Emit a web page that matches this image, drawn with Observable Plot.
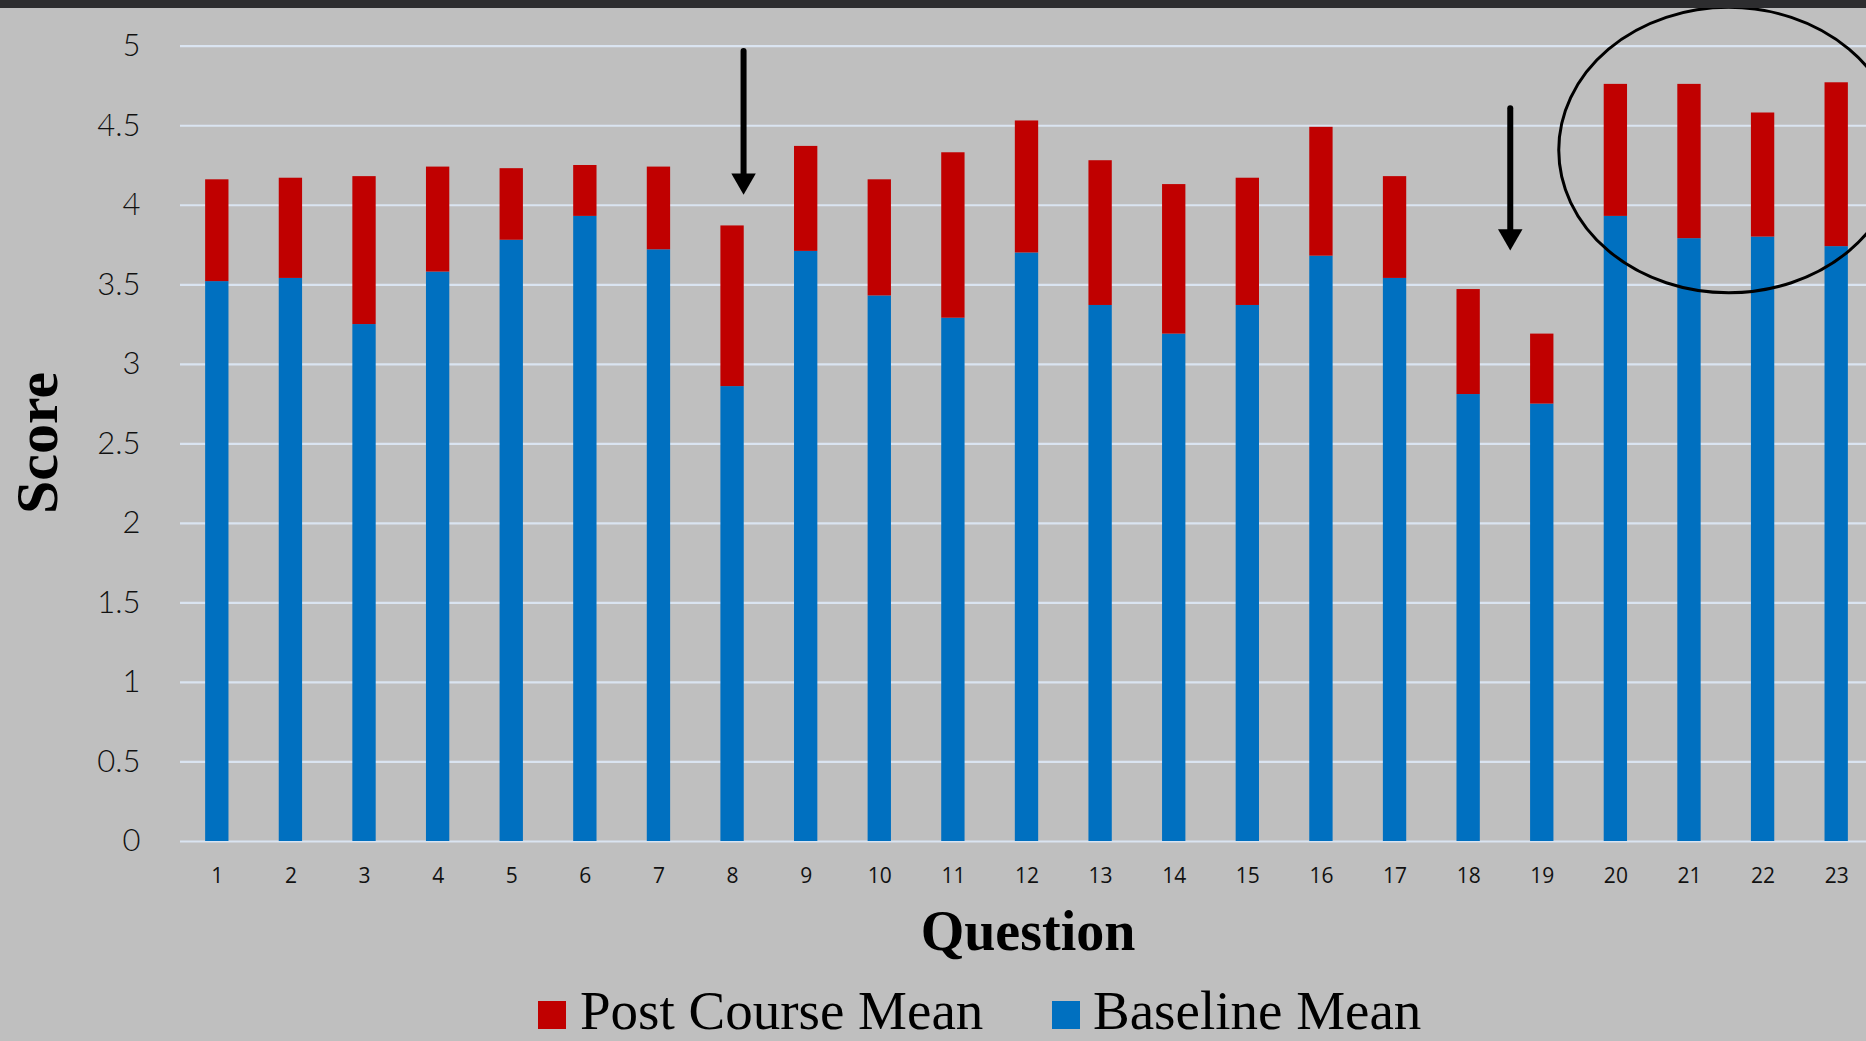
<!DOCTYPE html>
<html>
<head>
<meta charset="utf-8">
<script src="https://cdn.jsdelivr.net/npm/d3@7"></script>
<script src="https://cdn.jsdelivr.net/npm/@observablehq/plot@0.6"></script>
<style>
  html, body { margin: 0; padding: 0; background: #bfbfbf; overflow: hidden; }
  #frame { position: relative; width: 1866px; height: 1041px; overflow: hidden; background: #bfbfbf; }
  #topbar { position: absolute; left: 0; top: 0; width: 1866px; height: 8px; background: #2d2d2f; z-index: 3; }
  #chart { position: absolute; left: 0; top: 0; width: 1873px; }
  #chart svg { max-width: none !important; }
  #overlay { position: absolute; left: 0; top: 0; pointer-events: none; }
</style>
</head>
<body>
<div id="frame">
  <div id="chart"></div>
  <svg id="overlay" width="1866" height="1041"></svg>
  <div id="topbar"></div>
</div>
<script>
// ---- data ----
const questions = [1,2,3,4,5,6,7,8,9,10,11,12,13,14,15,16,17,18,19,20,21,22,23];
const baselineMean = [3.52,3.54,3.25,3.58,3.78,3.93,3.72,2.86,3.71,3.43,3.29,3.70,3.37,3.19,3.37,3.68,3.54,2.81,2.75,3.93,3.79,3.80,3.74];
const postCourseMean = [4.16,4.17,4.18,4.24,4.23,4.25,4.24,3.87,4.37,4.16,4.33,4.53,4.28,4.13,4.17,4.49,4.18,3.47,3.19,4.76,4.76,4.58,4.77];
const yTicks = [0,0.5,1,1.5,2,2.5,3,3.5,4,4.5,5];
const seriesNames = ["Post Course Mean", "Baseline Mean"];
const seriesColors = ["#c00000", "#0070c0"];
const xTitle = "Question";
const yTitle = "Score";
// annotation anchors (question, value from, value to)
const arrowQ = [8, 19];
const arrowFrom = [4.97, 4.61];
const arrowTo = [4.155, 3.805];
const circleQ = [21, 22];
const circleCenterValue = 4.344;
const circleHalfHeightValue = 0.897;

const data = questions.map((q, i) => ({q, baseline: baselineMean[i], post: postCourseMean[i]}));
const arrows = arrowQ.map((q, i) => ({q, from: arrowFrom[i], to: arrowTo[i]}));

const arrowMarks = (i, dx) => [
  Plot.link([arrows[i]], {x1: "q", x2: "q", y1: "from", y2: "to", dx, stroke: "#000", strokeWidth: 6, strokeLinecap: "round"}),
  Plot.dot([arrows[i]], {x: "q", y: "to", dx, symbol: "triangle2", rotate: 180, r: 11.7, fill: "#000", stroke: "none"})
];

const plot = Plot.plot({
  width: 1873,
  height: 900,
  marginLeft: 180,
  marginRight: 0,
  marginTop: 45.7,
  marginBottom: 59,
  style: {background: "transparent", overflow: "visible", color: "#000", maxWidth: "none"},
  x: {type: "band", domain: questions, paddingInner: 0.683, paddingOuter: 0.3415, round: false, label: null},
  y: {domain: [0, 5], ticks: yTicks, label: null},
  marks: [
    Plot.gridY(yTicks, {stroke: "#dae4f1", strokeOpacity: 1, strokeWidth: 2.2}),
    Plot.barY(data, {x: "q", y1: 0, y2: "baseline", fill: seriesColors[1]}),
    Plot.barY(data, {x: "q", y1: "baseline", y2: "post", fill: seriesColors[0]}),
    Plot.axisY(yTicks, {tickSize: 0, tickPadding: 40, tickFormat: d => String(d), fontSize: 31, fontFamily: "Lato", fontWeight: 300, fill: "#111", label: null}),
    Plot.axisX({tickSize: 0, tickPadding: 27, fontSize: 21, fontFamily: "Open Sans", fill: "#111", label: null}),
    ...arrowMarks(0, 11),
    ...arrowMarks(1, -32)
  ]
});
document.getElementById("chart").appendChild(plot);

// ellipse annotation anchored through the plot's scales
const xs = plot.scale("x"), ys = plot.scale("y");
const cx = (xs.apply(circleQ[0]) + xs.apply(circleQ[1])) / 2 + xs.bandwidth / 2 + 3;
const cy = ys.apply(circleCenterValue);
const ry = ys.apply(0) - ys.apply(circleHalfHeightValue);
d3.select(plot).append("ellipse")
  .attr("cx", cx).attr("cy", cy).attr("rx", xs.step * 2.31).attr("ry", ry)
  .attr("fill", "none").attr("stroke", "#000").attr("stroke-width", 3);

// titles and legend
const ov = d3.select("#overlay");
ov.append("text").attr("x", 1028).attr("y", 950).attr("text-anchor", "middle")
  .attr("font-family", "Liberation Serif").attr("font-weight", "bold").attr("font-size", 56).text(xTitle);
ov.append("text").attr("transform", "translate(57,443) rotate(-90)").attr("text-anchor", "middle")
  .attr("font-family", "Liberation Serif").attr("font-weight", "bold").attr("font-size", 60).text(yTitle);
const legendPos = [{sx: 538, tx: 580}, {sx: 1052, tx: 1093}];
seriesNames.forEach((name, i) => {
  ov.append("rect").attr("x", legendPos[i].sx).attr("y", 1001).attr("width", 28).attr("height", 28).attr("fill", seriesColors[i]);
  ov.append("text").attr("x", legendPos[i].tx).attr("y", 1029)
    .attr("font-family", "Liberation Serif").attr("font-size", 55).attr("fill", "#000").text(name);
});
</script>
</body>
</html>
